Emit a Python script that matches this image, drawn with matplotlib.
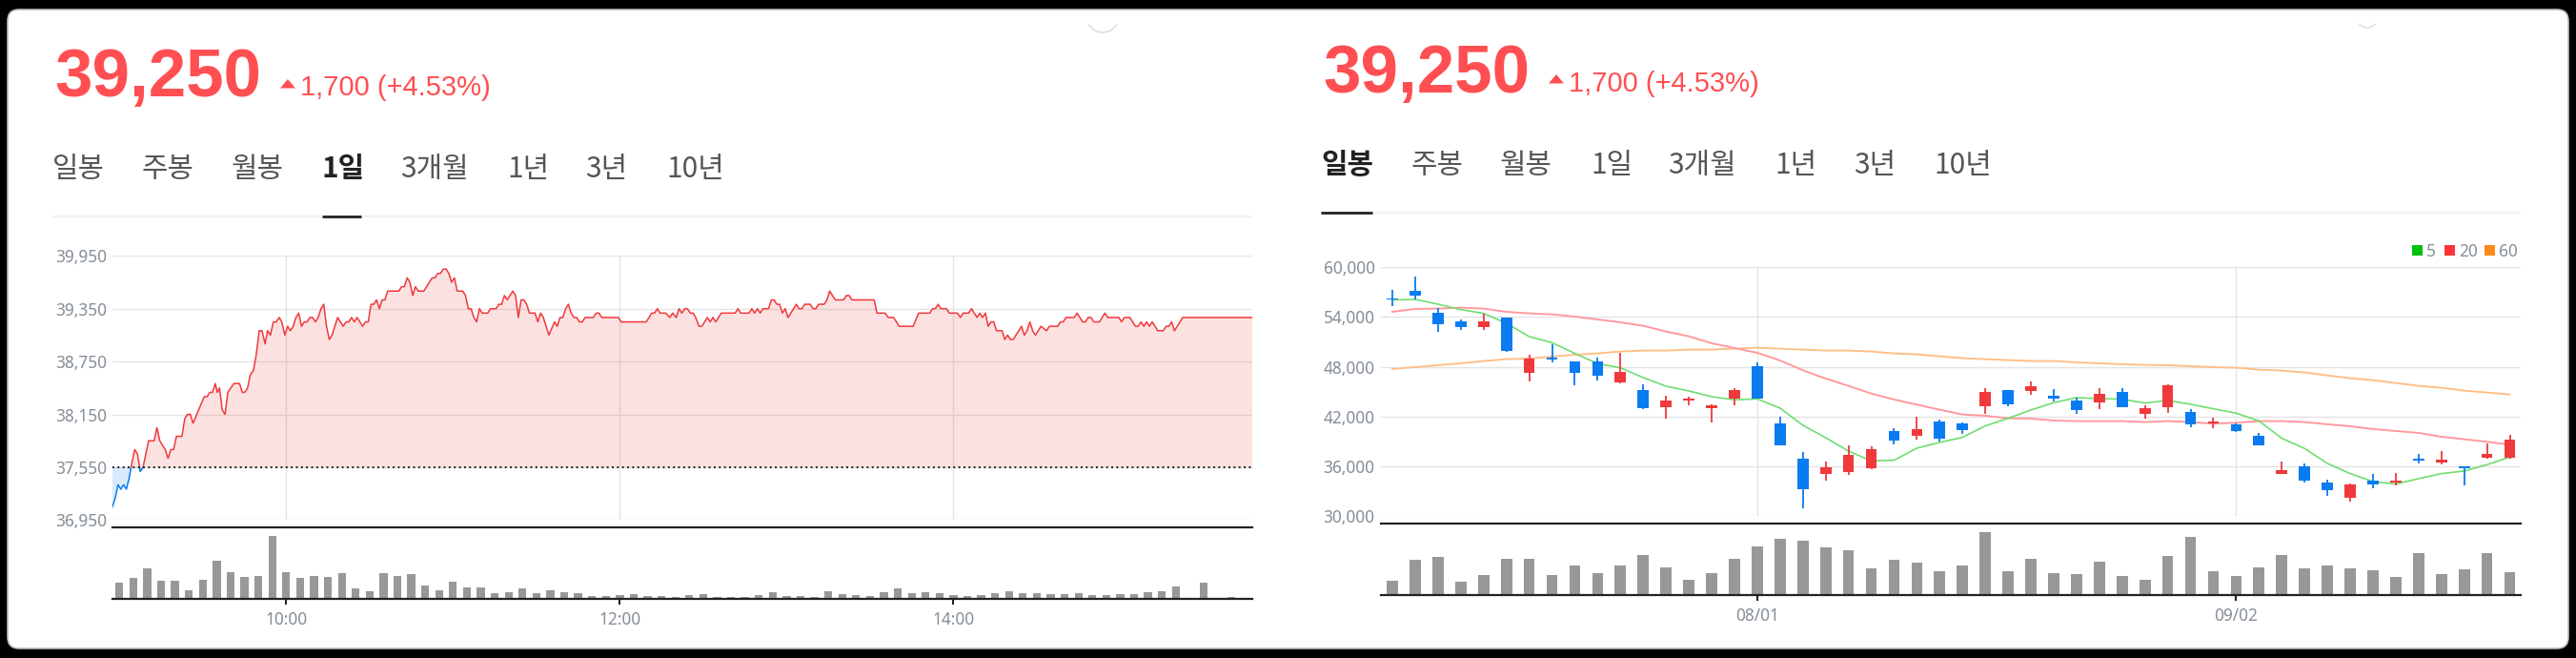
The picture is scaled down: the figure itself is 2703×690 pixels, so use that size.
import numpy as np
import matplotlib
matplotlib.use("Agg")
import matplotlib.pyplot as plt
from matplotlib.patches import FancyBboxPatch, Rectangle, Arc

W, H = 2703, 690

# ---- 1 day chart data ----
day_points = [
    (0, 37100), (1, 37200), (2, 37350), (3, 37300), (4, 37350), (5, 37300), (6, 37425), (7, 37600),
    (8, 37750), (9, 37700), (10, 37500), (11, 37550), (12, 37700), (13, 37850), (15, 37850), (16, 38000),
    (17, 37850), (19, 37750), (20, 37650), (21, 37750), (22, 37750), (23, 37900), (25, 37900), (26, 38100),
    (27, 38150), (28, 38150), (29, 38050), (33, 38350), (34, 38350), (35, 38400), (36, 38400), (37, 38500),
    (37.7, 38400), (38.5, 38450), (39.5, 38200), (40.5, 38150), (41.5, 38400), (42.6, 38450), (43.7, 38500),
    (45.7, 38500), (46.7, 38400), (47.6, 38400), (48.6, 38450), (49.6, 38600), (50.7, 38650), (51.6, 38800),
    (52.8, 39100), (53.8, 39100), (54.9, 38950), (55.8, 39100), (56.8, 39050), (57.9, 39200), (58.9, 39200),
    (60, 39250), (60.9, 39200), (62, 39050), (63, 39150), (64, 39100), (65, 39150), (66, 39250), (67, 39300),
    (68, 39150), (69, 39200), (70, 39200), (71, 39250), (72, 39250), (73, 39200), (74, 39250), (75, 39350),
    (76, 39400), (77, 39150), (78, 39000), (79, 39050), (81, 39250), (83, 39150), (84, 39200), (85, 39200),
    (86, 39250), (87, 39200), (88, 39250), (90, 39150), (91, 39200), (92, 39200), (93, 39400), (94, 39400),
    (95, 39450), (96, 39350), (97, 39450), (98, 39450), (99, 39550), (103, 39550), (104, 39600), (105, 39600),
    (106, 39700), (107, 39650), (108, 39500), (109, 39600), (110, 39550), (112, 39550), (114, 39650),
    (115, 39700), (116, 39700), (117, 39750), (118, 39750), (119, 39800), (120, 39800), (121, 39750),
    (122, 39650), (123, 39700), (124, 39550), (126, 39550), (127, 39500), (128, 39350), (129, 39350),
    (130, 39250), (131, 39200), (132, 39350), (133, 39300), (135, 39300), (136, 39350), (138, 39350),
    (139, 39400), (140, 39400), (141, 39500), (142, 39450), (144, 39550), (145, 39500), (146, 39250),
    (147, 39450), (148, 39450), (149, 39400), (150, 39300), (152, 39300), (153, 39200), (154, 39300),
    (155, 39250), (157, 39050), (159, 39200), (160, 39150), (161, 39250), (162, 39250), (163, 39350),
    (164, 39400), (165, 39300), (166, 39250), (167, 39250), (168, 39200), (169, 39200), (170, 39250),
    (173, 39250), (174, 39300), (175, 39300), (176, 39250), (182, 39250), (183, 39200), (192, 39200),
    (193, 39250), (194, 39300), (195, 39300), (196, 39350), (197, 39300), (199, 39300), (200.5, 39250),
    (201.5, 39300), (202.8, 39250), (203.8, 39350), (204.8, 39300), (205.9, 39350), (206.8, 39350),
    (207.9, 39300), (208.9, 39300), (209.8, 39250), (211, 39150), (212, 39150), (214, 39250), (215, 39200),
    (216, 39250), (217, 39200), (219, 39300), (224, 39300), (225, 39350), (226, 39300), (229, 39300),
    (230, 39350), (231, 39300), (232, 39350), (233, 39300), (234, 39350), (236, 39350), (237, 39450),
    (238, 39450), (239, 39400), (240, 39400), (241, 39300), (242, 39350), (243, 39250), (246, 39400),
    (247, 39350), (248, 39350), (249, 39400), (251, 39400), (252, 39350), (253, 39350), (254, 39400),
    (256, 39400), (257, 39450), (258, 39550), (260, 39450), (263, 39450), (264, 39500), (265, 39500),
    (266, 39450), (274, 39450), (275, 39300), (278, 39300), (279, 39250), (281, 39250), (282, 39200),
    (283, 39150), (288, 39150), (290, 39300), (294, 39300), (295, 39350), (296, 39350), (297, 39400),
    (298, 39350), (300, 39350), (301, 39300), (304, 39300), (305, 39250), (306, 39300), (308, 39300),
    (309, 39350), (311, 39250), (312, 39300), (313, 39250), (314, 39300), (315, 39150), (316, 39200),
    (317, 39200), (318, 39100), (320, 39100), (321, 39000), (322, 39050), (323, 39000), (324, 39000),
    (327, 39150), (328, 39050), (329, 39100), (330, 39200), (331, 39100), (332, 39050), (334, 39150),
    (336, 39100), (337, 39150), (340, 39150), (341, 39200), (342, 39200), (343, 39250), (346, 39250),
    (347, 39300), (349, 39200), (350, 39200), (351, 39250), (352, 39250), (353, 39200), (355, 39200),
    (357, 39300), (358, 39250), (362, 39250), (363, 39200), (364, 39250), (366, 39250), (368, 39150),
    (369, 39150), (370, 39200), (371, 39150), (372, 39200), (373, 39150), (374, 39200), (376, 39100),
    (378, 39100), (379, 39150), (380, 39150), (381, 39200), (382, 39100), (383, 39150), (385, 39250),
    (410, 39250),
]
prev_close = 37550
day_yticks = [36950, 37550, 38150, 38750, 39350, 39950]
day_ticks = [62.5, 182.5, 302.5]
day_ticklabels = ["10:00", "12:00", "14:00"]
day_volume = [50, 65, 95, 56, 56, 26, 59, 119, 83, 68, 71, 197, 83, 65, 71, 68, 80, 32, 23, 80,
              71, 77, 41, 26, 53, 35, 35, 17, 20, 32, 17, 26, 20, 17, 8, 8, 11, 14, 8, 8,
              5, 11, 14, 5, 5, 5, 11, 20, 8, 8, 5, 23, 14, 11, 8, 20, 32, 17, 20, 17,
              11, 8, 11, 17, 23, 17, 17, 14, 14, 17, 11, 11, 14, 14, 20, 23, 38, 0, 50, 0, 5]

# ---- daily candle chart data ----
candle_open = [56245, 57165, 54520, 53490, 52800, 53950, 47280, 49120, 48660, 48660,
               46130, 45210, 43145, 43950, 43030, 44180, 48085, 41190, 36935, 35100,
               35330, 35790, 40270, 39695, 41420, 41190, 43260, 45210, 45100, 44520,
               43950, 43720, 44980, 42340, 43145, 42570, 41190, 41075, 39695, 35100,
               36020, 34065, 32225, 34295, 34065, 36935, 36480, 36020, 37050, 37050]
candle_high = [57280, 58890, 55060, 53720, 54400, 53950, 49465, 50730, 48660, 49120,
               49695, 45900, 44520, 44410, 43490, 45440, 48545, 41995, 37740, 36590,
               38545, 38430, 40615, 41995, 41650, 41305, 45440, 45210, 46250, 45330,
               44290, 45440, 45440, 43375, 45900, 42915, 41880, 41190, 40040, 36590,
               36365, 34410, 33950, 35100, 35215, 37510, 37855, 36020, 38775, 39810]
candle_low = [55365, 56130, 52260, 52450, 52450, 49810, 46250, 48545, 45790, 46360,
              46020, 42915, 41765, 43375, 41305, 43375, 44180, 38545, 30960, 34295,
              34985, 35670, 38660, 39235, 39005, 39925, 42340, 43260, 44635, 43830,
              42340, 42915, 43145, 41765, 42455, 40730, 40615, 40155, 38545, 35100,
              34065, 32455, 31765, 33375, 33720, 36365, 36250, 33720, 36935, 36935]
candle_close = [56090, 56590, 53140, 52800, 53490, 49925, 49005, 48890, 47280, 46935,
                47395, 43030, 43950, 44180, 43375, 45210, 44180, 38545, 33260, 35905,
                37400, 38085, 39120, 40500, 39350, 40385, 44980, 43490, 45670, 44180,
                42800, 44750, 43145, 43030, 45785, 41075, 41420, 40270, 38545, 35560,
                34295, 33145, 33835, 33835, 34295, 36705, 36820, 35790, 37550, 39250]
ma5 = [56055, 56130, 55555, 54905, 54445, 53255, 51650, 50920, 49620, 48390,
       47895, 46705, 45670, 45100, 44410, 44025, 44140, 43030, 40960, 39465,
       37855, 36670, 36745, 38200, 38890, 39505, 40885, 41800, 42800, 43680,
       44290, 44180, 44100, 43640, 43950, 43490, 42950, 42415, 41495, 39390,
       38165, 36365, 35135, 34180, 33870, 34525, 35135, 35445, 36210, 37130]
ma20 = [54635, 54980, 55020, 55135, 55020, 54635, 54445, 54330, 54060, 53715,
        53370, 52950, 52260, 51685, 50845, 50270, 49695, 48775, 47590, 46590,
        45710, 44790, 44065, 43450, 42835, 42260, 42110, 41800, 41765, 41535,
        41460, 41460, 41460, 41345, 41460, 41345, 41150, 41265, 41460, 41460,
        41345, 41075, 40845, 40500, 40270, 40040, 39580, 39275, 38970, 38625]
ma60 = [47740, 47970, 48200, 48430, 48700, 48930, 49005, 49235, 49465, 49620,
        49850, 49965, 49965, 50080, 50080, 50190, 50310, 50190, 50080, 49965,
        49965, 49850, 49620, 49505, 49275, 49045, 48930, 48815, 48700, 48700,
        48545, 48430, 48315, 48240, 48200, 48085, 47970, 47895, 47665, 47550,
        47320, 46975, 46630, 46400, 46055, 45710, 45480, 45135, 44905, 44675]
candle_volume = [45, 111, 120, 42, 63, 114, 114, 63, 93, 69,
                 93, 126, 87, 48, 69, 114, 153, 177, 171, 150,
                 141, 84, 111, 102, 75, 93, 198, 75, 114, 69,
                 66, 105, 60, 48, 123, 183, 75, 60, 87, 126,
                 84, 93, 84, 78, 57, 132, 66, 81, 132, 72]
candle_yticks = [30000, 36000, 42000, 48000, 54000, 60000]
candle_ticks = [16, 37]
candle_ticklabels = ["08/01", "09/02"]
legend_labels = ["5", "20", "60"]

tabs = ["일봉", "주봉", "월봉", "1일", "3개월", "1년", "3년", "10년"]
price_text = "39,250"
change_text = "1,700 (+4.53%)"

RED = "#f0393d"
BLUE = "#0a7bf0"
UP = "#ff4f52"
GRID = "#e4e4e4"
DARK = "#222222"
TICK = "#868e99"
VOL = "#989898"
CJK = ["Noto Sans CJK KR", "DejaVu Sans"]

plt.rcParams["font.family"] = ["Noto Sans", "DejaVu Sans"]


def px_axes(fig, left, top, right, bottom):
    # axes placed by reference pixels
    return fig.add_axes([left / W, 1 - bottom / H, (right - left) / W, (bottom - top) / H])


def style_price(ax):
    for s in ax.spines.values():
        s.set_visible(False)
    ax.set_facecolor("none")
    ax.tick_params(axis="both", length=0)
    ax.tick_params(axis="y", labelsize=12.4, labelcolor=TICK, pad=4.5)
    ax.tick_params(axis="x", labelbottom=False)
    ax.grid(True, color=GRID, lw=1.0)
    ax.set_axisbelow(True)


def style_volume(ax, pad):
    for name, s in ax.spines.items():
        s.set_visible(name in ("top", "bottom"))
        s.set_color(DARK)
        s.set_linewidth(1.6)
    ax.set_facecolor("none")
    ax.set_yticks([])
    ax.tick_params(axis="x", length=4.2, width=1.5, color=DARK, labelsize=12.4, labelcolor=TICK, pad=pad)


def header(bg, x_price, y_price, x_tri, y_tri, x_change, y_change, tab_x, tab_y, selected, line_y, x_end):
    bg.text(x_price, y_price, price_text, color=UP, fontsize=51, fontweight="bold",
            family="Liberation Sans", va="baseline")
    bg.fill([x_tri, x_tri + 16, x_tri + 8], [y_tri + 9.5, y_tri + 9.5, y_tri], color=UP, lw=0)
    bg.text(x_change, y_change, change_text, color=UP, fontsize=21,
            family="Liberation Sans", va="baseline")
    for i, (label, x) in enumerate(zip(tabs, tab_x)):
        on = i == selected
        bg.text(x, tab_y, label, family=CJK, fontsize=21.5, va="center",
                color=DARK if on else "#555555", fontweight="bold" if on else "normal")
    bg.plot([tab_x[0], x_end], [line_y, line_y], color="#f2f2f2", lw=1.6, solid_capstyle="butt")


fig = plt.figure(figsize=(W / 100, H / 100), dpi=100, facecolor="black")

bg = fig.add_axes([0, 0, 1, 1])
bg.set_xlim(0, W)
bg.set_ylim(H, 0)
bg.axis("off")
bg.add_patch(FancyBboxPatch((18, 20), W - 36, H - 40, boxstyle="round,pad=10,rounding_size=12",
                            fc="white", ec="#bbbbbb", lw=1.2))
# faint scroll marks along the top edge
bg.add_patch(Arc((1157, 17), 34, 34, theta1=30, theta2=150, color="#dde0e6", lw=1.2))
bg.add_patch(Arc((2484, 20), 20, 18, theta1=30, theta2=150, color="#dde0e6", lw=1.2))

tab_left = [55, 149, 243, 338, 420, 532, 614, 699]
tab_right = [1386, 1480, 1574, 1669, 1750, 1862.5, 1945, 2029]
header(bg, 57, 100.5, 294, 83, 315, 100, tab_left, 177, 3, 227, 1314)
header(bg, 1388, 96.5, 1625, 78, 1646, 96, tab_right, 173, 0, 222.5, 2645)
bg.plot([338, 379], [227, 227], color=DARK, lw=2, solid_capstyle="butt")
bg.plot([1386, 1440], [222.5, 222.5], color=DARK, lw=2, solid_capstyle="butt")

# ---- 1 day chart ----
ax = px_axes(fig, 118, 268.3, 1314, 545.3)
line_x = np.array([p[0] for p in day_points], dtype=float)
line_y = np.array([p[1] for p in day_points], dtype=float)
ax.fill_between(line_x, line_y, prev_close, where=line_y >= prev_close, interpolate=True,
                color="#ee3b3b", alpha=0.15, lw=0)
ax.fill_between(line_x, line_y, prev_close, where=line_y <= prev_close, interpolate=True,
                color="#2f8ff0", alpha=0.18, lw=0)
up_line, = ax.plot(line_x, line_y, color=RED, lw=1.1, zorder=3)
down_line, = ax.plot(line_x, line_y, color=BLUE, lw=1.1, zorder=3)
up_line.set_clip_path(Rectangle((0, prev_close), 410, 3000, transform=ax.transData))
down_line.set_clip_path(Rectangle((0, 36950), 410, prev_close - 36950, transform=ax.transData))
ax.axhline(prev_close, color=DARK, lw=1.4, ls=(0, (1, 1.75)), zorder=4)
ax.set_xlim(0, 410)
ax.set_ylim(36950, 39950)
ax.set_xticks(day_ticks)
ax.set_yticks(day_yticks, [f"{v:,}" for v in day_yticks])
style_price(ax)

ax_v = px_axes(fig, 118, 553, 1314, 627.7)
ax_v.bar(2.5 + 5 * np.arange(len(day_volume)), day_volume, width=2.85, color=VOL)
ax_v.set_xlim(0, 410)
ax_v.set_ylim(0, 224)
ax_v.set_xticks(day_ticks, day_ticklabels)
style_volume(ax_v, 5.6)

# ---- daily candle chart ----
ax2 = px_axes(fig, 1448.8, 280.3, 2645, 541.3)
x = np.arange(len(candle_open))
for i in x:
    c = RED if candle_close[i] >= candle_open[i] else BLUE
    lo, hi = sorted([candle_open[i], candle_close[i]])
    ax2.vlines(i, candle_low[i], candle_high[i], color=c, lw=1.3, zorder=3)
    ax2.bar(i, max(hi - lo, 150), bottom=lo, width=0.49, color=c, zorder=3)
ax2.plot(x, ma60, color="#ffbf8a", lw=1.4, zorder=2)
ax2.plot(x, ma20, color="#ff9a9e", lw=1.4, zorder=2)
ax2.plot(x, ma5, color="#70dd70", lw=1.2, zorder=2)
ax2.set_xlim(-0.51, 49.48)
ax2.set_ylim(30000, 60000)
ax2.set_xticks(candle_ticks)
ax2.set_yticks(candle_yticks, [f"{v:,}" for v in candle_yticks])
style_price(ax2)

ax2_v = px_axes(fig, 1448.8, 549, 2645, 624)
ax2_v.bar(x, candle_volume, width=0.49, color=VOL)
ax2_v.set_xlim(-0.51, 49.48)
ax2_v.set_ylim(0, 225)
ax2_v.set_xticks(candle_ticks, candle_ticklabels)
style_volume(ax2_v, 5)

# legend
for label, c, x0, xt in zip(legend_labels, ["#00c20f", "#ff3439", "#ff8a1c"],
                            [2531, 2565, 2607], [2546, 2580, 2622]):
    bg.add_patch(Rectangle((x0, 257), 11, 11, fc=c, ec="none"))
    bg.text(xt, 264, label, color=TICK, fontsize=12.4, va="center")

bg.set_xlim(0, W)
bg.set_ylim(H, 0)
fig.savefig("out.png", dpi=100, facecolor="black")
